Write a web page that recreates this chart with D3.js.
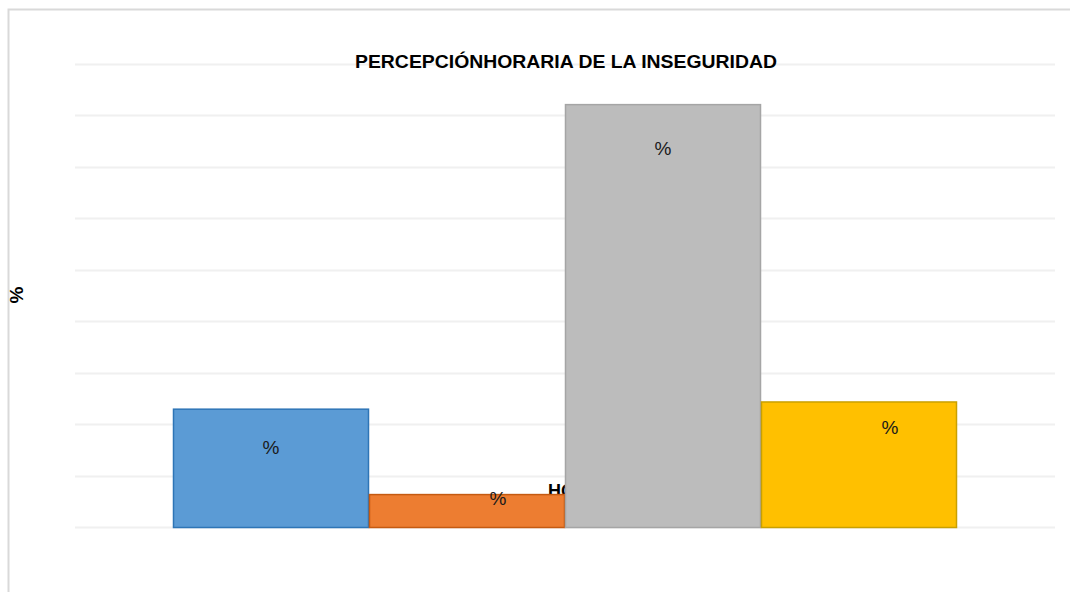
<!DOCTYPE html>
<html>
<head>
<meta charset="utf-8">
<script src="https://cdn.jsdelivr.net/npm/d3@7"></script>
<style>
  body { margin:0; background:#fff; overflow:hidden; }
  svg { display:block; }
</style>
</head>
<body>
<script>
// datos del grafico
var series = ["Mañana", "Tarde", "Noche", "Madrugada"];
var valores = [11.5, 3.2, 41.1, 12.2];
var etiquetas = ["%", "%", "%", "%"];
var colores = ["#5b9bd5", "#ed7d31", "#bcbcbc", "#ffc000"];
var bordes = ["#2e75b6", "#c55a11", "#a5a5a5", "#c9a000"];
var ticks = [0, 5, 10, 15, 20, 25, 30, 35, 40, 45];
// desplazamiento de etiquetas movidas a mano en el original
var labelDx = [0, 31, 0, 31];
var labelDy = [38, 4, 44, 26];

var width = 1070, height = 592;
var margin = {left: 75, right: 15, top: 64, bottom: 65};

var svg = d3.select("body").append("svg")
  .attr("width", width)
  .attr("height", height)
  .attr("font-family", "'Liberation Sans', sans-serif");

// marco del area del grafico (se sale por derecha y abajo)
svg.append("rect")
  .attr("x", 8.5).attr("y", 9.5)
  .attr("width", width + 100).attr("height", height + 100)
  .attr("fill", "#fff")
  .attr("stroke", "#d9d9d9")
  .attr("stroke-width", 2);

var y = d3.scaleLinear().domain([0, 45]).range([527, 64]);
var x = d3.scaleBand().domain(["HORA"]).range([margin.left, width - margin.right]);
var xs = d3.scaleBand().domain(series).range([0, x.bandwidth()]).paddingOuter(0.5).paddingInner(0);

// lineas de cuadricula
svg.append("g")
  .selectAll("line")
  .data(ticks)
  .join("line")
  .attr("x1", margin.left)
  .attr("x2", width - margin.right)
  .attr("y1", d => Math.round(y(d)) + 0.5)
  .attr("y2", d => Math.round(y(d)) + 0.5)
  .attr("stroke", "#f0f0f0")
  .attr("stroke-width", 2);

// titulo eje x (queda tapado por las barras)
svg.append("text")
  .attr("x", 548)
  .attr("y", 497)
  .attr("font-weight", "bold")
  .attr("font-size", 18)
  .text("HORA");

var g = svg.append("g").attr("transform", `translate(${x("HORA")},0)`);

g.selectAll("rect")
  .data(valores)
  .join("rect")
  .attr("x", (d, i) => xs(series[i]) + 0.5)
  .attr("y", d => y(d) + 0.5)
  .attr("width", xs.bandwidth() - 1)
  .attr("height", d => y(0) - y(d))
  .attr("fill", (d, i) => colores[i])
  .attr("stroke", (d, i) => bordes[i])
  .attr("stroke-width", 1.5);

g.selectAll("text.lbl")
  .data(valores)
  .join("text")
  .attr("class", "lbl")
  .attr("x", (d, i) => xs(series[i]) + xs.bandwidth() / 2 + labelDx[i])
  .attr("y", (d, i) => y(d) + labelDy[i] + 7)
  .attr("text-anchor", "middle")
  .attr("font-size", 19)
  .attr("fill", "#1a1a1a")
  .text((d, i) => etiquetas[i]);

// titulo
svg.append("text")
  .attr("x", 566)
  .attr("y", 68)
  .attr("text-anchor", "middle")
  .attr("font-weight", "bold")
  .attr("font-size", 19)
  .attr("textLength", 422)
  .attr("lengthAdjust", "spacingAndGlyphs")
  .text("PERCEPCIÓNHORARIA DE LA INSEGURIDAD");

// titulo eje y
svg.append("text")
  .attr("transform", "translate(23,295) rotate(-90)")
  .attr("text-anchor", "middle")
  .attr("font-weight", "bold")
  .attr("font-size", 19)
  .text("%");
</script>
</body>
</html>
